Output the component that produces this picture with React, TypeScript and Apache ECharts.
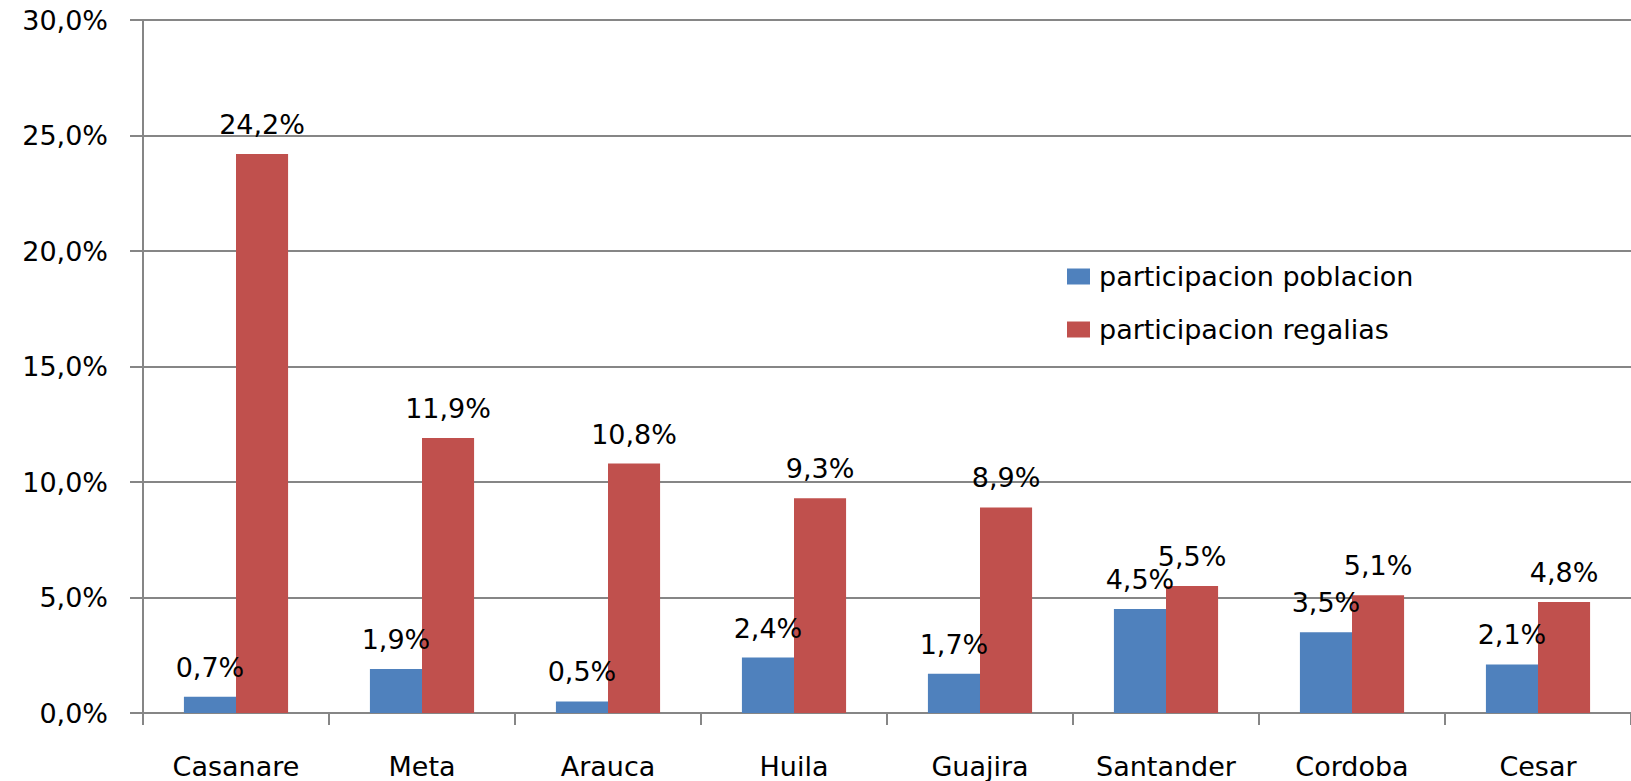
import React, { useEffect, useRef } from "react";
import * as echarts from "echarts";

const categories = ["Casanare", "Meta", "Arauca", "Huila", "Guajira", "Santander", "Cordoba", "Cesar"];
const poblacion = [0.7, 1.9, 0.5, 2.4, 1.7, 4.5, 3.5, 2.1];
const regalias = [24.2, 11.9, 10.8, 9.3, 8.9, 5.5, 5.1, 4.8];
const seriesNames = ["participacion poblacion", "participacion regalias"];

const fmt = (v: number) => v.toFixed(1).replace(".", ",") + "%";
const FONT = "DejaVu Sans";
const FS = 27;

export default function App() {
  const ref = useRef<HTMLDivElement>(null);
  useEffect(() => {
    document.body.style.margin = "0";
    const chart = echarts.init(ref.current!, null, { renderer: "svg" });
    const labelStyle = {
      show: true,
      position: "top" as const,
      distance: 16,
      color: "#000",
      fontFamily: FONT,
      fontSize: FS,
      formatter: (p: any) => fmt(p.value),
    };
    chart.setOption({
      animation: false,
      backgroundColor: "#fff",
      grid: { left: 143, right: -12, top: 20, bottom: 68, containLabel: false },
      legend: {
        orient: "vertical",
        left: 1062,
        top: 258,
        icon: "rect",
        itemWidth: 23,
        itemHeight: 16,
        itemGap: 26,
        textStyle: { fontFamily: FONT, fontSize: FS, color: "#000", padding: [0, 0, 0, 4] },
        data: seriesNames,
      },
      xAxis: {
        type: "category",
        data: categories,
        axisLine: { lineStyle: { color: "#868686", width: 2 } },
        axisTick: { show: true, length: 12, lineStyle: { color: "#868686", width: 2 } },
        axisLabel: { margin: 40, color: "#000", fontFamily: FONT, fontSize: FS },
      },
      yAxis: {
        type: "value",
        min: 0,
        max: 30,
        interval: 5,
        axisLine: { show: true, lineStyle: { color: "#868686", width: 2 } },
        axisTick: { show: true, length: 13, lineStyle: { color: "#868686", width: 2 } },
        splitLine: { lineStyle: { color: "#868686", width: 2 } },
        axisLabel: { margin: 35, color: "#000", fontFamily: FONT, fontSize: FS, formatter: (v: number) => fmt(v) },
      },
      series: [
        {
          name: seriesNames[0],
          type: "bar",
          data: poblacion,
          itemStyle: { color: "#4F81BD" },
          barGap: "0%",
          barCategoryGap: "44%",
          label: labelStyle,
        },
        {
          name: seriesNames[1],
          type: "bar",
          data: regalias,
          itemStyle: { color: "#C0504D" },
          barGap: "0%",
          barCategoryGap: "44%",
          label: labelStyle,
        },
      ],
    });
    return () => chart.dispose();
  }, []);
  return <div ref={ref} style={{ width: 1631, height: 781 }} />;
}
